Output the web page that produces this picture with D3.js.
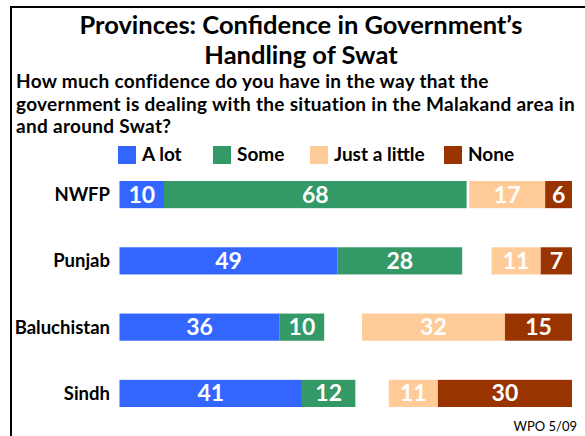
<!DOCTYPE html>
<html><head><meta charset="utf-8">
<script src="https://cdn.jsdelivr.net/npm/d3@7"></script>
<style>body{margin:0;background:#fff}svg{display:block}</style>
</head><body>
<script>
const provinces = ["NWFP", "Punjab", "Baluchistan", "Sindh"];
const aLot = [10, 49, 36, 41];
const some = [68, 28, 10, 12];
const justALittle = [17, 11, 32, 11];
const none = [6, 7, 15, 30];
const legendLabels = ["A lot", "Some", "Just a little", "None"];
const colors = ["#3366FF", "#339966", "#FFCC99", "#993300"];

const W = 585, H = 436;
const svg = d3.select("body").append("svg").attr("width", W).attr("height", H);
const font = "Lato, 'Open Sans', sans-serif";

// frame
svg.append("path").attr("d", `M11,${H+2}V7H${W+2}`).attr("fill","none").attr("stroke","#000").attr("stroke-width",2);

// title
const title = svg.append("text").attr("text-anchor","middle").attr("font-family",font)
  .attr("font-weight","bold").attr("font-size",25.5).attr("fill","#000");
title.append("tspan").attr("x",301).attr("y",34).text("Provinces: Confidence in Government’s");
title.append("tspan").attr("x",301).attr("y",64).text("Handling of Swat");

const sub = svg.append("text").attr("font-family",font).attr("font-weight","bold")
  .attr("font-size",19).attr("letter-spacing",0.3).attr("fill","#000");
["How much confidence do you have in the way that the",
 "government is dealing with the situation in the Malakand area in",
 "and around Swat?"].forEach((t,i)=>sub.append("tspan").attr("x",16).attr("y",88+i*22.5).text(t));

// legend
const legX = [118, 213, 310, 444];
const leg = svg.append("g").selectAll("g").data(legendLabels).join("g")
  .attr("transform",(d,i)=>`translate(${legX[i]},146)`);
leg.append("rect").attr("width",18).attr("height",18).attr("fill",(d,i)=>colors[i]);
leg.append("text").attr("x",24).attr("y",15).attr("font-family",font).attr("font-weight","bold")
  .attr("font-size",19).text(d=>d);

// scales
const y = d3.scaleBand().domain(provinces).range([181, 407]).paddingInner(0.59);
const xL = d3.scaleLinear().domain([0, 100]).range([119.5, 119.5 + 445]);
const xR = d3.scaleLinear().domain([0, 100]).range([572, 572 - 447]);

const rows = provinces.map((p,i)=>({p, a:aLot[i], s:some[i], j:justALittle[i], n:none[i]}));
const segs = [];
rows.forEach(r=>{
  segs.push({p:r.p, v:r.a, x0:xL(0), x1:xL(r.a), c:colors[0]});
  segs.push({p:r.p, v:r.s, x0:xL(r.a), x1:xL(r.a+r.s), c:colors[1]});
  segs.push({p:r.p, v:r.j, x0:xR(r.j+r.n), x1:xR(r.n), c:colors[2]});
  segs.push({p:r.p, v:r.n, x0:xR(r.n), x1:xR(0), c:colors[3]});
});

svg.append("g").selectAll("rect").data(segs).join("rect")
  .attr("x",d=>d.x0).attr("width",d=>d.x1-d.x0)
  .attr("y",d=>y(d.p)).attr("height",y.bandwidth()).attr("fill",d=>d.c);

svg.append("g").selectAll("text").data(segs).join("text")
  .attr("x",d=>(d.x0+d.x1)/2).attr("y",d=>y(d.p)+y.bandwidth()/2+8)
  .attr("text-anchor","middle").attr("font-family",font).attr("font-weight","bold")
  .attr("font-size",23).attr("fill","#fff").text(d=>d.v);

// category labels
svg.append("g").selectAll("text").data(provinces).join("text")
  .attr("x",110).attr("y",d=>y(d)+y.bandwidth()/2+6.5).attr("text-anchor","end")
  .attr("font-family",font).attr("font-weight","bold").attr("font-size",18.5).text(d=>d);

svg.append("text").attr("x",577).attr("y",431).attr("text-anchor","end")
  .attr("font-family",font).attr("font-size",13).text("WPO 5/09");
</script>
</body></html>
